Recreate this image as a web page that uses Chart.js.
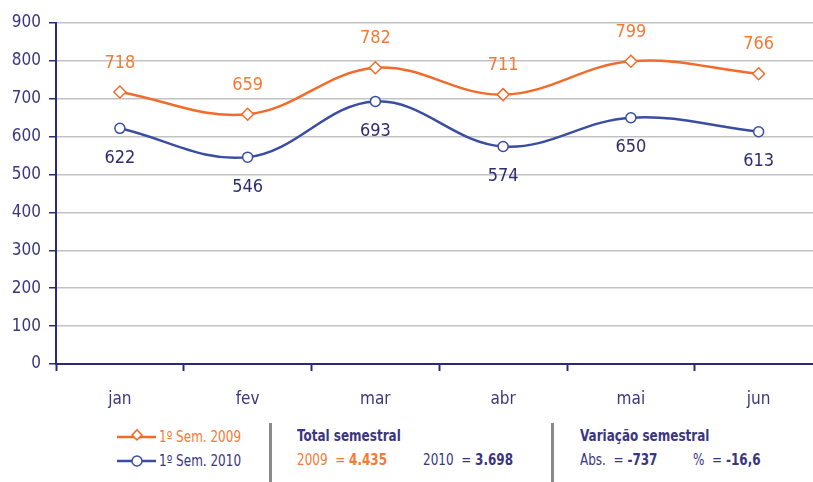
<!DOCTYPE html>
<html><head><meta charset="utf-8">
<script src="https://cdn.jsdelivr.net/npm/chart.js@4.4.1/dist/chart.umd.min.js"></script>
<style>
html,body{margin:0;padding:0;background:#fff;overflow:hidden;width:813px;height:482px;}
#wrap{position:absolute;left:0;top:0;width:830px;height:412px;}
.t{position:absolute;font-family:"Liberation Sans Narrow","DejaVu Sans Condensed","Liberation Sans",sans-serif;font-size:15px;white-space:nowrap;line-height:18px;transform:scaleX(0.89);transform-origin:0 50%;}
.sep{position:absolute;width:3px;background:#8a8a8a;top:423px;height:59px;}
.o{color:#F47A35;} .n{color:#3B3680;} b{font-weight:bold;}
</style></head><body>
<div id="wrap"><canvas id="c" width="830" height="412"></canvas></div>
<svg style="position:absolute;left:110px;top:425px" width="50" height="50">
  <line x1="7" y1="12" x2="46" y2="12" stroke="#F26B2A" stroke-width="2.5"/>
  <rect x="22" y="7" width="7" height="7" transform="rotate(45 27 12)" fill="#fff" stroke="#F26B2A" stroke-width="1.5"/>
  <line x1="7" y1="36" x2="46" y2="36" stroke="#3A4DA0" stroke-width="2.5"/>
  <circle cx="27" cy="36" r="5" fill="#fff" stroke="#3A4DA0" stroke-width="1.5"/>
</svg>
<div class="t o" style="left:159px;top:428px">1º Sem. 2009</div>
<div class="t n" style="left:159px;top:452px">1º Sem. 2010</div>
<div class="sep" style="left:269px"></div>
<div class="t n" style="left:297px;top:427px"><b>Total semestral</b></div>
<div class="t o" style="left:297px;top:451px">2009&nbsp; = <b>4.435</b></div>
<div class="t n" style="left:423px;top:451px">2010&nbsp; = <b>3.698</b></div>
<div class="sep" style="left:551px"></div>
<div class="t n" style="left:580px;top:427px"><b>Variação semestral</b></div>
<div class="t n" style="left:580px;top:451px">Abs.&nbsp; = <b>-737</b></div>
<div class="t n" style="left:693px;top:451px">%&nbsp; = <b>-16,6</b></div>
<script>
const categories = ["jan","fev","mar","abr","mai","jun"];
const sem2009 = [718, 659, 782, 711, 799, 766];
const sem2010 = [622, 546, 693, 574, 650, 613];
const seriesNames = ["1º Sem. 2009","1º Sem. 2010"];
const yTicks = [0,100,200,300,400,500,600,700,800,900];

const FONT = '"Liberation Sans Narrow","DejaVu Sans Condensed","Liberation Sans",sans-serif';
const ORANGE = '#F26B2A', ORANGE_T = '#F47A35', BLUE = '#3A4DA0', NAVY = '#3B3680', NAVY_D = '#2F2B70', AXIS = '#2B2A7A';

const labelPlugin = {
  id: 'valueLabels',
  afterDatasetsDraw(chart) {
    const ctx = chart.ctx;
    ctx.save();
    ctx.font = '18px ' + FONT;
    ctx.textAlign = 'center';
    ctx.textBaseline = 'middle';
    chart.data.datasets.forEach((ds, i) => {
      const meta = chart.getDatasetMeta(i);
      meta.data.forEach((pt, j) => {
        ctx.fillStyle = i === 0 ? ORANGE_T : NAVY_D;
        ctx.fillText(String(ds.data[j]), pt.x, pt.y + (i === 0 ? -29 : 30));
      });
    });
    ctx.restore();
  }
};

new Chart(document.getElementById('c'), {
  type: 'line',
  data: {
    labels: categories,
    datasets: [
      { label: seriesNames[0], data: sem2009, borderColor: ORANGE, borderWidth: 2.5, tension: 0.38,
        pointStyle: 'rectRot', pointRadius: 6, pointBorderWidth: 1.5, pointBackgroundColor: '#fff', pointBorderColor: ORANGE },
      { label: seriesNames[1], data: sem2010, borderColor: BLUE, borderWidth: 2.5, tension: 0.38,
        pointStyle: 'circle', pointRadius: 5, pointBorderWidth: 1.5, pointBackgroundColor: '#fff', pointBorderColor: BLUE }
    ]
  },
  options: {
    responsive: false, animation: false,
    layout: { padding: { top: 23, left: 0, right: 6, bottom: 0 } },
    plugins: { legend: { display: false }, tooltip: { enabled: false } },
    scales: {
      x: {
        offset: true,
        grid: { offset: true, drawOnChartArea: false, tickLength: 7, tickColor: AXIS, tickWidth: 2 },
        border: { color: AXIS, width: 2 },
        ticks: { color: NAVY, font: { family: FONT, size: 17 }, padding: 18 },
        afterFit(s) { s.height = 48; }
      },
      y: {
        min: 0, max: 900,
        afterBuildTicks(s) { s.ticks = yTicks.map(v => ({ value: v })); },
        grid: { color: '#C2C2C2', lineWidth: 1.5, tickLength: 7, tickColor: AXIS },
        border: { color: AXIS, width: 2 },
        ticks: { color: NAVY, font: { family: FONT, size: 17 }, padding: 8 },
        afterFit(s) { s.width = 56; }
      }
    }
  },
  plugins: [labelPlugin]
});
</script>
</body></html>
